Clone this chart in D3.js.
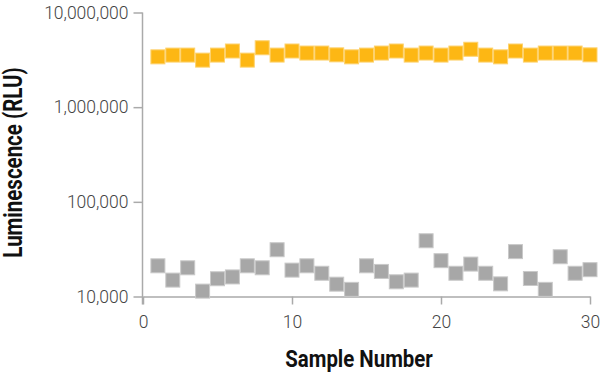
<!DOCTYPE html>
<html>
<head>
<meta charset="utf-8">
<script src="https://cdn.jsdelivr.net/npm/d3@7"></script>
<style>
  body { margin: 0; background: #fff; }
  .tick text { font-family: Roboto, sans-serif; font-weight: 300; fill: #444; }
  .axis-title { font-family: Roboto, sans-serif; font-weight: 700; fill: #111; }
</style>
</head>
<body>
<div id="chart"></div>
<script>
const samples = d3.range(1, 31);
const highSignal = [
  3400000, 3550000, 3550000, 3140000, 3550000, 3920000, 3140000, 4240000, 3550000, 3920000,
  3730000, 3730000, 3570000, 3400000, 3550000, 3730000, 3920000, 3550000, 3730000, 3550000,
  3730000, 4090000, 3550000, 3400000, 3920000, 3550000, 3730000, 3730000, 3730000, 3570000
];
const background = [
  21100, 14900, 20100, 11400, 15400, 16100, 21100, 20100, 31200, 19000,
  21100, 17600, 13500, 11900, 21100, 18400, 14300, 14900, 38800, 23900,
  17600, 22000, 17600, 13600, 29800, 15500, 11900, 26300, 17600, 19200
];
const xTicks = [0, 10, 20, 30];
const yTicks = [10000, 100000, 1000000, 10000000];

const width = 603;
const height = 374;
const margin = { top: 12.5, right: 13, bottom: 77.5, left: 143 };
const markerSize = 14;

const svg = d3.select("#chart").append("svg")
  .attr("width", width)
  .attr("height", height);

const x = d3.scaleLinear()
  .domain([0, 30])
  .range([margin.left, width - margin.right]);

const y = d3.scaleLog()
  .domain([10000, 10000000])
  .range([height - margin.bottom, margin.top]);

const yAxis = svg.append("g")
  .attr("transform", `translate(${margin.left - 0.5},0)`)
  .call(d3.axisLeft(y).tickValues(yTicks).tickFormat(d3.format(",")).tickSize(9).tickSizeOuter(0).tickPadding(5));

const xAxis = svg.append("g")
  .attr("transform", `translate(0,${height - margin.bottom})`)
  .call(d3.axisBottom(x).tickValues(xTicks).tickFormat(d3.format("d")).tickSize(8).tickSizeOuter(0).tickPadding(11));

[xAxis, yAxis].forEach((g) => {
  g.select(".domain").attr("stroke", "#aaa").attr("stroke-width", 1.5);
  g.selectAll(".tick line").attr("stroke", "#aaa").attr("stroke-width", 1.5);
  g.selectAll(".tick text").attr("font-size", 17.5);
});
// y-axis runs down to the bottom of the x tick
yAxis.select(".domain").attr("d", `M0,${y(10000000)}V${height - margin.bottom + 8}`);

function drawSeries(values, fill, stroke) {
  svg.append("g")
    .selectAll("rect")
    .data(values)
    .join("rect")
    .attr("x", (d, i) => x(samples[i]) - markerSize / 2)
    .attr("y", (d) => y(d) - markerSize / 2)
    .attr("width", markerSize)
    .attr("height", markerSize)
    .attr("fill", fill)
    .attr("stroke", stroke)
    .attr("stroke-width", 1);
}

drawSeries(background, "#a7a7a7", "#c9c9c9");
drawSeries(highSignal, "#fdb714", "#fdd26e");

// titles use a condensed bold look: squeeze Roboto Bold horizontally
svg.append("text")
  .attr("class", "axis-title")
  .attr("transform", `translate(359,367) scale(0.85,1)`)
  .attr("text-anchor", "middle")
  .attr("font-size", 24)
  .text("Sample Number");

svg.append("text")
  .attr("class", "axis-title")
  .attr("transform", `translate(22,${(y(10000) + y(10000000)) / 2 + 8}) rotate(-90) scale(0.82,1)`)
  .attr("text-anchor", "middle")
  .attr("font-size", 25)
  .text("Luminescence (RLU)");
</script>
</body>
</html>
